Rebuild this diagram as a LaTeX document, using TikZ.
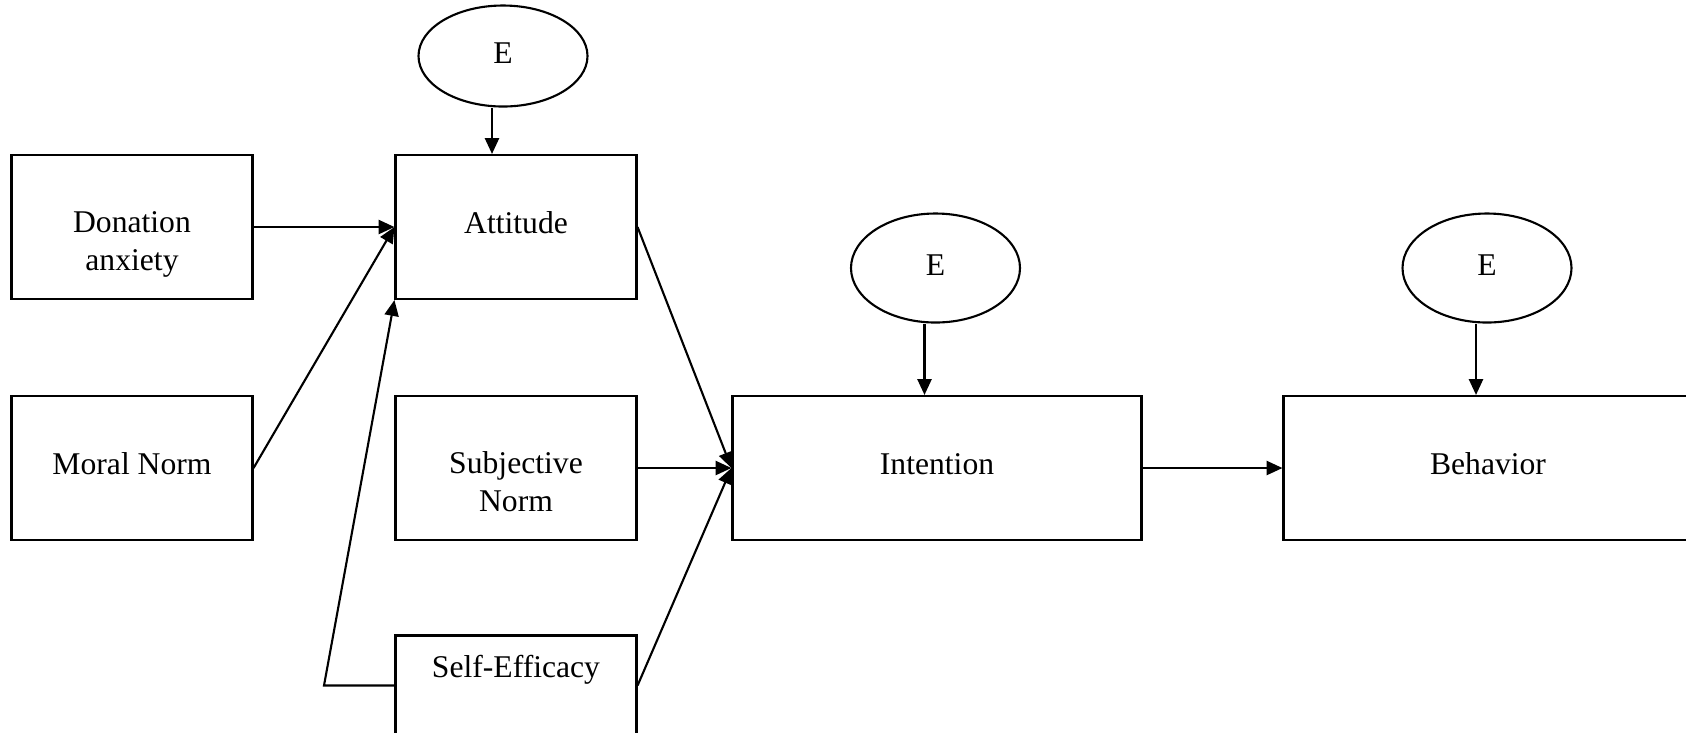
\documentclass[tikz,border=0pt]{standalone}
\usepackage{fontspec}
\setmainfont{Liberation Serif}
\usetikzlibrary{arrows.meta,shapes.geometric}

\begin{document}
\begin{tikzpicture}[%
        box/.style={draw, rectangle, line width=0.6pt, minimum width=2.41cm,
            minimum height=1.44cm, align=center, inner sep=1pt},
        oneline/.style={text height=6.5pt, text depth=2.6pt},
        twoline/.style={text height=27pt, text depth=2pt},
        widebox/.style={box, oneline, minimum width=4.09cm},
        err/.style={draw, ellipse, line width=0.6pt, minimum width=1.69cm,
            minimum height=1.05cm, inner sep=0pt, text depth=1.5pt},
        arr/.style={line width=0.6pt, -{Triangle[length=4.5pt,width=4pt]}},
        font=\fontsize{9}{10.8}\selectfont
    ]
        \useasboundingbox (0,0) rectangle (16.86,-7.32);

        \node [box, twoline] (don) at (1.32,-2.27) {Donation\\anxiety};
        \node [box, oneline] (mor) at (1.32,-4.68) {Moral Norm};
        \node [box, oneline] (att) at (5.16,-2.27) {Attitude};
        \node [box, twoline] (sub) at (5.16,-4.68) {Subjective\\Norm};
        \node [box, minimum height=1.0cm, text depth=11pt] (se) at (5.16,-6.855) {Self-Efficacy};
        \node [widebox] (int) at (9.37,-4.68) {Intention};
        \node [widebox] (beh) at (14.88,-4.68) {Behavior};

        \node [err, minimum height=1.01cm] (e1) at (5.03,-0.56) {E};
        \foreach \n/\x in {2/9.355,3/14.87}
            \node [err, minimum height=1.09cm] (e\n) at (\x,-2.68) {E};

        % error terms
        \draw [arr] ([xshift=-0.11cm]e1.south) -- ([xshift=-0.11cm]e1.south |- att.north);
        \draw [arr] ([xshift=-0.11cm]e2.south) -- ([xshift=-0.11cm]e2.south |- int.north);
        \draw [arr] ([xshift=-0.11cm]e3.south) -- ([xshift=-0.11cm]e3.south |- beh.north);

        % paths to attitude
        \draw [arr] (don.east) -- (att.west);
        \draw [arr] (mor.east) -- (att.west);
        \draw [arr] (se.west) -- (se.west -| 3.24,0) -- (att.south west);

        % paths to intention and behavior
        \foreach \s in {att,sub,se}
            \draw [arr] (\s.east) -- (int.west);
        \draw [arr] (int.east) -- (beh.west);
    \end{tikzpicture}
\end{document}
